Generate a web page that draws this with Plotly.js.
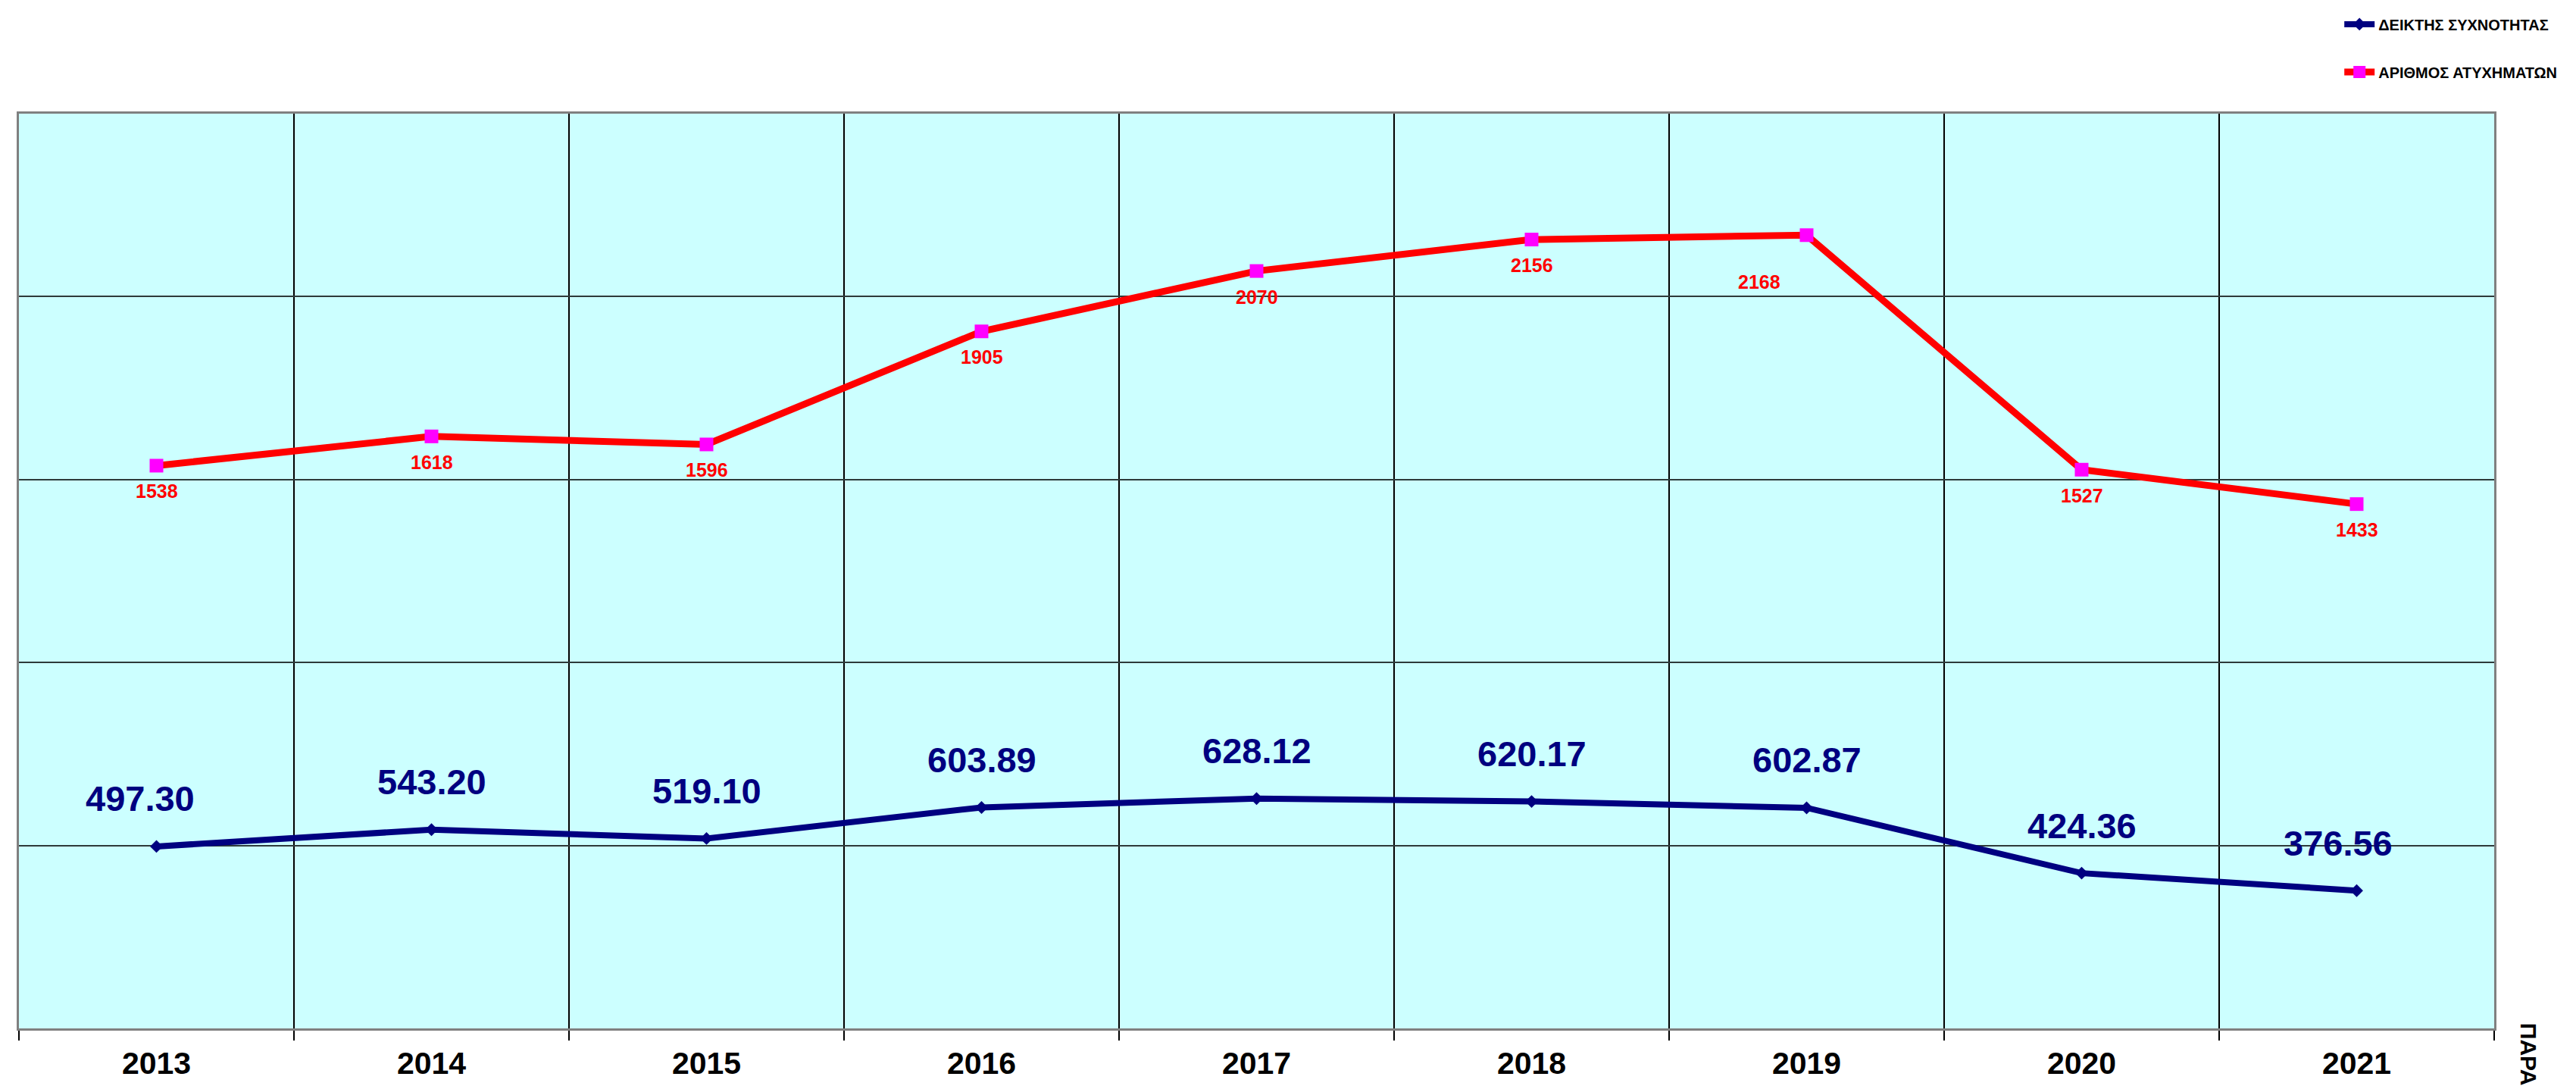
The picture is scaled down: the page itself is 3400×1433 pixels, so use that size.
<!DOCTYPE html>
<html>
<head>
<meta charset="utf-8">
<script src="https://cdn.plot.ly/plotly-3.0.1.min.js"></script>
<style>
  html, body { margin: 0; padding: 0; background: #ffffff; }
  #chart { width: 3400px; height: 1433px; }
</style>
</head>
<body>
<div id="chart"></div>
<script>
// ---- data ----
const years = ['2013', '2014', '2015', '2016', '2017', '2018', '2019', '2020', '2021'];
const frequencyIndex = [497.30, 543.20, 519.10, 603.89, 628.12, 620.17, 602.87, 424.36, 376.56];
const accidents = [1538, 1618, 1596, 1905, 2070, 2156, 2168, 1527, 1433];
const seriesNames = ['ΔΕΙΚΤΗΣ ΣΥΧΝΟΤΗΤΑΣ', 'ΑΡΙΘΜΟΣ ΑΤΥΧΗΜΑΤΩΝ'];
const axisLabel = 'ΠΑΡΑ';

// ---- styling ----
const FONT = '"Liberation Sans", Arial, sans-serif';
const NAVY = '#000080';
const RED = '#FF0000';
const MAGENTA = '#FF00FF';

// label offsets (pixels) – a couple of labels were moved by hand in the original
const blueShiftX = {0: -22, 8: -25};
const redShift = {6: {x: -63, y: -62}};

const traces = [
  {
    x: years, y: frequencyIndex, name: seriesNames[0],
    type: 'scatter', mode: 'lines+markers',
    line: {color: NAVY, width: 8},
    marker: {symbol: 'diamond', size: 13, color: NAVY},
    legendgroup: 'a', hoverinfo: 'x+y'
  },
  {
    x: years, y: accidents, name: seriesNames[1],
    type: 'scatter', mode: 'lines+markers',
    line: {color: RED, width: 9},
    marker: {symbol: 'square', size: 18, color: MAGENTA},
    legendgroup: 'b', hoverinfo: 'x+y'
  }
];

const annotations = [];
years.forEach((yr, i) => {
  annotations.push({
    x: i, y: frequencyIndex[i], xref: 'x', yref: 'y',
    text: frequencyIndex[i].toFixed(2), showarrow: false,
    xanchor: 'center', yanchor: 'middle',
    xshift: blueShiftX[i] || 0, yshift: 63,
    font: {family: FONT, size: 47, color: NAVY, weight: 'bold'}
  });
  const rs = redShift[i] || {x: 0, y: -34};
  annotations.push({
    x: i, y: accidents[i], xref: 'x', yref: 'y',
    text: String(accidents[i]), showarrow: false,
    xanchor: 'center', yanchor: 'middle',
    xshift: rs.x, yshift: rs.y,
    font: {family: FONT, size: 25, color: RED, weight: 'bold'}
  });
});
annotations.push({
  xref: 'paper', yref: 'paper', x: 1.0138, y: -0.028,
  text: axisLabel, showarrow: false, textangle: 90,
  xanchor: 'center', yanchor: 'middle',
  font: {family: FONT, size: 30, color: '#000000', weight: 'bold'}
});

const layout = {
  width: 3400, height: 1433,
  margin: {l: 25, r: 108, t: 146, b: 76, pad: 0},
  paper_bgcolor: '#FFFFFF',
  plot_bgcolor: '#CCFFFF',
  font: {family: FONT, color: '#000000'},
  showlegend: true,
  legend: {
    x: 1.027, y: 1.114, xanchor: 'right', yanchor: 'top',
    traceorder: 'grouped', tracegroupgap: 34,
    bgcolor: 'rgba(0,0,0,0)', borderwidth: 0,
    font: {family: FONT, size: 20, color: '#000000', weight: 'bold'},
    itemwidth: 40
  },
  xaxis: {
    type: 'category',
    categoryorder: 'array', categoryarray: years,
    range: [-0.5, years.length - 0.5], autorange: false,
    tickson: 'boundaries', tickangle: 0,
    ticks: 'outside', ticklen: 13, tickwidth: 1.5, tickcolor: '#000000',
    showgrid: true, gridcolor: '#000000', gridwidth: 1.5,
    showline: true, linecolor: '#808080', linewidth: 3, mirror: true,
    tickfont: {family: FONT, size: 41, color: '#000000', weight: 'bold'},
    ticklabelstandoff: 8,
    zeroline: false, fixedrange: true
  },
  yaxis: {
    range: [0, 2500], autorange: false, dtick: 500, tick0: 0,
    showticklabels: false, ticks: '',
    showgrid: true, gridcolor: '#2E3A3A', gridwidth: 2,
    showline: true, linecolor: '#808080', linewidth: 3, mirror: true,
    zeroline: false, fixedrange: true
  },
  annotations: annotations
};

Plotly.newPlot('chart', traces, layout, {displayModeBar: false, staticPlot: true});
</script>
</body>
</html>
